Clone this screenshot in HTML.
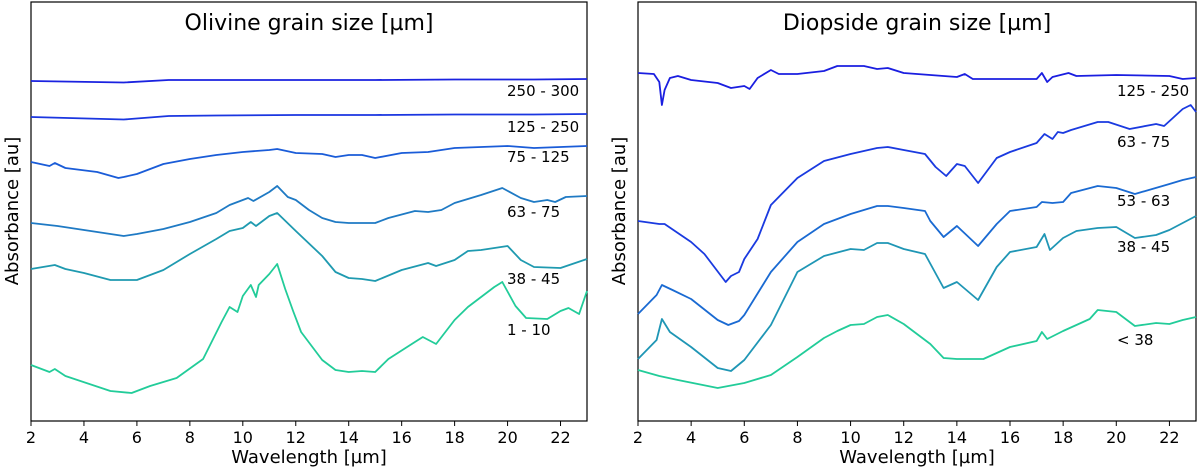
<!DOCTYPE html>
<html><head><meta charset="utf-8"><style>
body{margin:0;background:#fff;}
svg{display:block;font-family:"DejaVu Sans","Liberation Sans",sans-serif;}
</style></head><body>
<svg id="c" width="1200" height="470"></svg>
<script>
// ---------- Olivine data (stacked offset units, axis drawn top-down) ----------
const olWl250=[2,5.5,7.2,9,12,15,18,21,23];
const olV250=[79,80.5,78,78,78,78,77.5,77.5,77];
const olWl125=[2,5.5,7.2,9,12,15,18,21,23];
const olV125=[115,117.5,114,113.5,113,113,112.5,112.5,112];
const olWl75=[2,2.7,2.9,3.3,4.5,5.3,5.5,6,7,8,9,10,11,11.3,12,13,13.5,14,14.5,15,16,17,17.5,18,20,21,22,23];
const olV75=[160,164,161,166,170,176,175,172,162,157,153,150,148,147,151,152,155,153,153,156,151,150,148,146,144,146,145,144];
const olWl63=[2,3,4,5.5,6,7,8,9,9.5,10,10.2,10.4,11,11.3,11.7,12,12.5,13,13.5,14,15,15.5,16.5,17,17.5,18,19,19.8,20.5,21,21.5,21.8,22.2,23];
const olV63=[221,224,228,234,232,227,220,211,203,198,196,199,190,184,195,198,208,216,220,221,221,216,209,210,208,201,193,186,196,200,198,200,195,194];
const olWl38=[2,2.9,3.3,4,5,6,7,8,9,9.5,10,10.3,10.5,11,11.3,12,13,13.5,14,14.5,15,16,17,17.3,18,18.5,19,20,20.5,21,22,23];
const olV38=[267,263,267,271,278,278,268,252,237,229,226,220,224,214,211,229,254,270,276,277,279,268,261,264,258,249,248,244,258,265,266,257];
const olWl1=[2,2.7,2.9,3.3,5,5.8,6.5,7.5,8.5,9.2,9.5,9.8,10,10.3,10.5,10.6,11,11.3,11.6,11.9,12.2,13,13.5,14,14.5,15,15.5,16.5,16.8,17.3,18,18.5,19.5,19.8,20.3,20.7,21.5,22,22.3,22.7,23];
const olV1=[363,370,367,374,389,391,384,376,357,320,305,310,294,283,295,283,272,262,287,309,330,358,368,370,369,370,357,340,335,342,318,305,285,280,304,316,317,309,306,312,289];
// ---------- Diopside data ----------
const diWl125=[2,2.6,2.8,2.9,3.0,3.2,3.5,4,5,5.5,6,6.2,6.5,7,7.3,8,9,9.5,10.5,11,11.4,12,14,14.3,14.6,16,17,17.2,17.4,17.6,18.2,18.5,20,22,22.5,23];
const diV125=[71,72,80,103,88,76,74,78,81,86,84,87,76,68,72,72,69,64,64,67,66,71,75,72,77,77,77,71,80,75,71,74,73,74,77,76];
const diWl63=[2,2.8,3,4,4.5,5.3,5.5,5.8,6,6.5,7,8,9,10,11,11.4,12,12.8,13.2,13.6,14,14.3,14.8,15.5,16,17,17.3,17.6,17.8,18,18.3,19.3,19.7,20.5,21.5,21.8,22.5,22.8,23];
const diV63=[219,222,222,240,252,280,274,270,257,237,203,176,159,152,146,145,148,152,165,174,162,164,181,156,150,141,132,137,130,131,128,120,120,127,122,124,107,103,110];
const diWl53=[2,2.7,2.9,3.3,4,5,5.4,5.8,6,7,8,9,10,11,11.4,12,12.8,13,13.5,14,14.8,15.5,16,17,17.2,17.6,18,18.3,19.3,20,20.7,22,22.5,23];
const diV53=[312,293,283,288,297,318,323,319,313,270,240,222,212,204,204,206,209,219,235,224,244,222,209,205,200,201,200,191,184,186,192,182,178,175];
const diWl38=[2,2.7,2.9,3.2,4,5,5.5,6,7,8,9,10,10.5,11,11.4,12,12.8,13.5,14,14.8,15.5,16,17,17.3,17.5,18,18.5,19.3,20,20.7,21.5,22,23];
const diV38=[357,338,317,330,345,366,369,358,323,270,254,247,248,241,241,247,252,286,280,298,265,250,245,232,248,236,229,226,225,236,233,228,214];
const diWlLt=[2,2.8,3.5,5,6,7,8,9,9.5,10,10.5,11,11.4,12,13,13.5,14,15,16,17,17.2,17.4,18,19,19.3,20,20.7,21.5,22,22.5,23];
const diVLt=[368,374,378,386,381,373,355,336,329,323,322,315,313,322,342,356,357,357,345,339,330,337,329,317,308,310,324,321,322,318,315];
const xTicks=[2,4,6,8,10,12,14,16,18,20,22];

const NS="http://www.w3.org/2000/svg";
const svg=document.getElementById('c');
function mk(tag,attrs,parent){const e=document.createElementNS(NS,tag);for(const k in attrs)e.setAttribute(k,attrs[k]);(parent||svg).appendChild(e);return e;}

function panel(px0,px1,title,series,key){
  const top=2,bot=421;
  const xS=w=>px0+(w-2)/(23-2)*(px1-px0);
  const yS=v=>top+v*(bot-top)/419;
  const g=mk('g',{});
  
  
  const fr=mk('rect',{x:px0,y:top,width:px1-px0,height:bot-top,fill:'none',stroke:'#000','stroke-width':1.2},g);
  
  
  const t=mk('text',{x:(px0+px1)/2,y:30,'text-anchor':'middle','font-size':22},g);
  t.textContent=title;
  
  
  xTicks.forEach(v=>{
    const x=xS(v);
    const tk=mk('line',{x1:x,x2:x,y1:bot,y2:bot+5,stroke:'#000','stroke-width':1},g);
    
    
    const tl=mk('text',{x:x,y:bot+22,'text-anchor':'middle','font-size':16},g);
    tl.textContent=v;
    
    
  });
  const xl=mk('text',{x:(px0+px1)/2,y:463,'text-anchor':'middle','font-size':18},g);
  xl.textContent='Wavelength [µm]';
  
  
  const yl=mk('text',{x:0,y:0,'text-anchor':'middle','font-size':18,transform:`translate(${px0-13},211) rotate(-90)`},g);
  yl.textContent='Absorbance [au]';
  
  
  series.forEach(s=>{
    const d=s.wl.map((w,i)=>(i?'L':'M')+xS(w).toFixed(1)+','+yS(s.v[i]).toFixed(1)).join('');
    const p=mk('path',{d:d,fill:'none',stroke:s.c,'stroke-width':1.8,'stroke-linejoin':'round'},g);
    
    
    const lb=mk('text',{x:s.lx,y:s.ly,'font-size':15},g);
    lb.textContent=s.n;
    
    
  });
}
panel(31,587,'Olivine grain size [µm]',[
 {wl:olWl250,v:olV250,c:'#1a22e0',n:'250 - 300',lx:507,ly:96},
 {wl:olWl125,v:olV125,c:'#1a36e0',n:'125 - 250',lx:507,ly:132},
 {wl:olWl75,v:olV75,c:'#1a5cd8',n:'75 - 125',lx:507,ly:162},
 {wl:olWl63,v:olV63,c:'#1f7ac4',n:'63 - 75',lx:507,ly:217},
 {wl:olWl38,v:olV38,c:'#1f9ab0',n:'38 - 45',lx:507,ly:284},
 {wl:olWl1,v:olV1,c:'#22cc99',n:'1 - 10',lx:507,ly:335}
],'olivine');
panel(638,1196,'Diopside grain size [µm]',[
 {wl:diWl125,v:diV125,c:'#1a1ee0',n:'125 - 250',lx:1117,ly:96},
 {wl:diWl63,v:diV63,c:'#1a3ae0',n:'63 - 75',lx:1117,ly:147},
 {wl:diWl53,v:diV53,c:'#1a6ad2',n:'53 - 63',lx:1117,ly:206},
 {wl:diWl38,v:diV38,c:'#1f96b5',n:'38 - 45',lx:1117,ly:252},
 {wl:diWlLt,v:diVLt,c:'#22cc99',n:'< 38',lx:1117,ly:345}
],'diopside');
</script>
</body></html>
